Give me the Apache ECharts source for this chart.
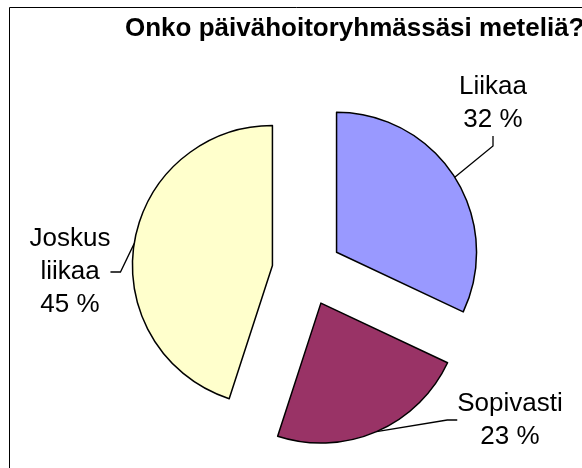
<!DOCTYPE html>
<html>
<head>
<meta charset="utf-8">
<script src="https://cdn.jsdelivr.net/npm/echarts@6/dist/echarts.min.js"></script>
<style>
html, body { margin: 0; padding: 0; background: #fff; }
#chartArea { width: 582px; height: 468px; }
</style>
</head>
<body>
<div id="chartArea"></div>
<script>
var titleText = 'Onko päivähoitoryhmässäsi meteliä?';
var categories = ['Liikaa', 'Sopivasti', 'Joskus liikaa'];
var percents = [32, 23, 45];
var sliceColors = ['#9999FF', '#993366', '#FFFFCC'];
// where Excel put each label block (centre)
var labelSpots = [[493, 103], [510, 420], [70, 272]];

var pieCenter = [307, 271];
var explode = 35;

var myChart = echarts.init(document.getElementById('chartArea'));

var total = percents.reduce(function(a, b) { return a + b; }, 0);

// one series per slice so every slice can be pushed out on its own
var seriesList = categories.map(function(name, i) {
    var before = 0;
    for (var k = 0; k < i; k++) before += percents[k];
    var mid = (before + percents[i] / 2) / total * Math.PI * 2;
    return {
        type: 'pie',
        name: name,
        center: [pieCenter[0] + Math.sin(mid) * explode, pieCenter[1] - Math.cos(mid) * explode],
        radius: 140,
        startAngle: 90,
        clockwise: true,
        silent: true,
        itemStyle: { borderColor: '#000', borderWidth: 1.5 },
        label: {
            position: 'outside',
            fontFamily: 'Liberation Sans',
            fontSize: 26,
            lineHeight: 33,
            color: '#000',
            align: 'center',
            formatter: function(p) {
                return p.name.replace(' ', '\n') + '\n' + p.value + ' %';
            }
        },
        labelLine: {
            show: true,
            length: 20,
            length2: 10,
            lineStyle: { color: '#000', width: 1.3 }
        },
        labelLayout: function(p) {
            var spot = labelSpots[p.dataIndex];
            return {
                x: spot[0],
                y: spot[1],
                align: 'center',
                verticalAlign: 'middle'
            };
        },
        data: categories.map(function(n, j) {
            if (j === i) {
                return { name: n, value: percents[j], itemStyle: { color: sliceColors[j] } };
            }
            return {
                name: n,
                value: percents[j],
                itemStyle: { color: 'transparent', borderWidth: 0 },
                label: { show: false },
                labelLine: { show: false }
            };
        })
    };
});

myChart.setOption({
    animation: false,
    backgroundColor: '#ffffff',
    title: {
        text: titleText,
        left: 120,
        top: 11,
        textStyle: {
            fontFamily: 'Liberation Sans',
            fontSize: 26,
            fontWeight: 'bold',
            color: '#000'
        }
    },
    graphic: [{
        type: 'rect',
        silent: true,
        shape: { x: 9.5, y: 7.5, width: 700, height: 700 },
        style: { fill: null, stroke: '#000', lineWidth: 1 }
    }],
    series: seriesList
});
</script>
</body>
</html>
